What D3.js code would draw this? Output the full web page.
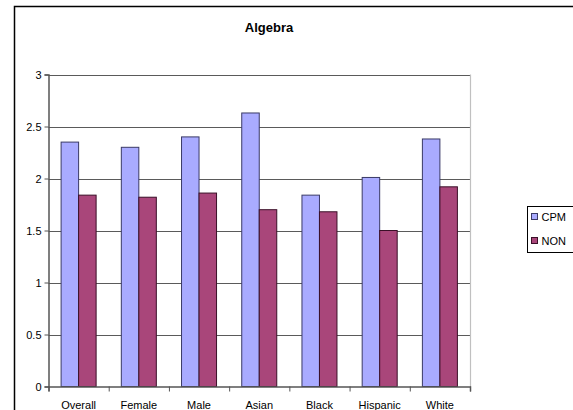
<!DOCTYPE html>
<html>
<head>
<meta charset="utf-8">
<script src="https://cdn.jsdelivr.net/npm/d3@7"></script>
<style>
  html, body { margin: 0; padding: 0; background: #fff; overflow: hidden; }
  svg { display: block; font-family: "Liberation Sans", Arial, sans-serif; }
</style>
</head>
<body>
<svg id="chart" width="573" height="410"></svg>
<script>
// Algebra scores by group, CPM vs NON
const categories = ["Overall", "Female", "Male", "Asian", "Black", "Hispanic", "White"];
const seriesNames = ["CPM", "NON"];
const cpmValues = [2.35, 2.30, 2.40, 2.63, 1.84, 2.01, 2.38];
const nonValues = [1.84, 1.82, 1.86, 1.70, 1.68, 1.50, 1.92];
const yTicks = [0, 0.5, 1, 1.5, 2, 2.5, 3];
const colors = ["#a9abff", "#a9467a"];
const strokes = ["#3a3a66", "#3a1028"];

const svg = d3.select("#chart");

// outer chart frame
svg.append("rect")
  .attr("x", 14.5).attr("y", 6.5)
  .attr("width", 600).attr("height", 450)
  .attr("fill", "none").attr("stroke", "#000").attr("stroke-width", 1.5);

const plot = { left: 48.5, right: 470, top: 74.5, bottom: 386.5 };

const x = d3.scaleBand().domain(categories).range([plot.left, plot.right]);
const xs = d3.scaleBand().domain(seriesNames)
  .range([0, x.bandwidth()]).paddingOuter(0.72).paddingInner(0);
const y = d3.scaleLinear().domain([0, 3]).range([plot.bottom, plot.top]);

// gridlines
svg.append("g").selectAll("line").data(yTicks.filter(d => d > 0)).join("line")
  .attr("x1", plot.left).attr("x2", plot.right)
  .attr("y1", d => Math.round(y(d)) + 0.5).attr("y2", d => Math.round(y(d)) + 0.5)
  .attr("stroke", "#5a5a5a").attr("stroke-width", 1.2);

// right edge of plot area
svg.append("line")
  .attr("x1", plot.right + 0.5).attr("x2", plot.right + 0.5)
  .attr("y1", plot.top).attr("y2", plot.bottom)
  .attr("stroke", "#c0c0c0").attr("stroke-width", 1.2);

// bars
const rows = categories.map((c, i) => ({ cat: c, vals: [cpmValues[i], nonValues[i]] }));
const groups = svg.append("g").selectAll("g").data(rows).join("g")
  .attr("transform", d => `translate(${x(d.cat)},0)`);
groups.selectAll("rect")
  .data(d => d.vals.map((v, k) => ({ name: seriesNames[k], v, k })))
  .join("rect")
  .attr("x", d => xs(d.name))
  .attr("y", d => y(d.v))
  .attr("width", xs.bandwidth())
  .attr("height", d => y(0) - y(d.v))
  .attr("fill", d => colors[d.k])
  .attr("stroke", d => strokes[d.k])
  .attr("stroke-width", 1);

// y axis
const yAxis = svg.append("g")
  .attr("transform", `translate(${plot.left},0)`)
  .call(d3.axisLeft(y).tickValues(yTicks).tickFormat(d3.format("")).tickSize(4).tickPadding(3));
yAxis.select(".domain").attr("stroke", "#555").attr("stroke-width", 1.5);
yAxis.selectAll(".tick line").attr("stroke", "#555");
yAxis.selectAll("text").attr("font-size", 11).attr("fill", "#000")
  .attr("font-family", "Liberation Sans, Arial, sans-serif");

// x axis
const xBoundaries = d3.scaleLinear().domain([0, categories.length]).range([plot.left, plot.right]);
const xAxis = svg.append("g")
  .attr("transform", `translate(0,${plot.bottom})`)
  .call(d3.axisBottom(xBoundaries).tickValues(d3.range(categories.length + 1)).tickFormat("").tickSize(5));
xAxis.select(".domain").attr("stroke", "#555").attr("stroke-width", 1.5);
xAxis.selectAll(".tick line").attr("stroke", "#555");

svg.append("g").selectAll("text").data(categories).join("text")
  .attr("x", d => x(d) + x.bandwidth() / 2)
  .attr("y", 409)
  .attr("text-anchor", "middle")
  .attr("font-size", 11)
  .text(d => d);

// title
svg.append("text")
  .attr("x", 269).attr("y", 32)
  .attr("text-anchor", "middle")
  .attr("font-size", 13).attr("font-weight", "bold")
  .text("Algebra");

// legend
const legend = svg.append("g").attr("transform", "translate(527.5,206.5)");
legend.append("rect")
  .attr("width", 60).attr("height", 46)
  .attr("fill", "#fff").attr("stroke", "#000").attr("stroke-width", 1);
const items = legend.selectAll("g").data(seriesNames).join("g")
  .attr("transform", (d, i) => `translate(0,${10 + i * 24})`);
items.append("rect")
  .attr("x", 4).attr("y", -3).attr("width", 6).attr("height", 6)
  .attr("fill", (d, i) => colors[i]).attr("stroke", (d, i) => strokes[i]);
items.append("text")
  .attr("x", 14).attr("y", 4)
  .attr("font-size", 11)
  .text(d => d);
</script>
</body>
</html>
